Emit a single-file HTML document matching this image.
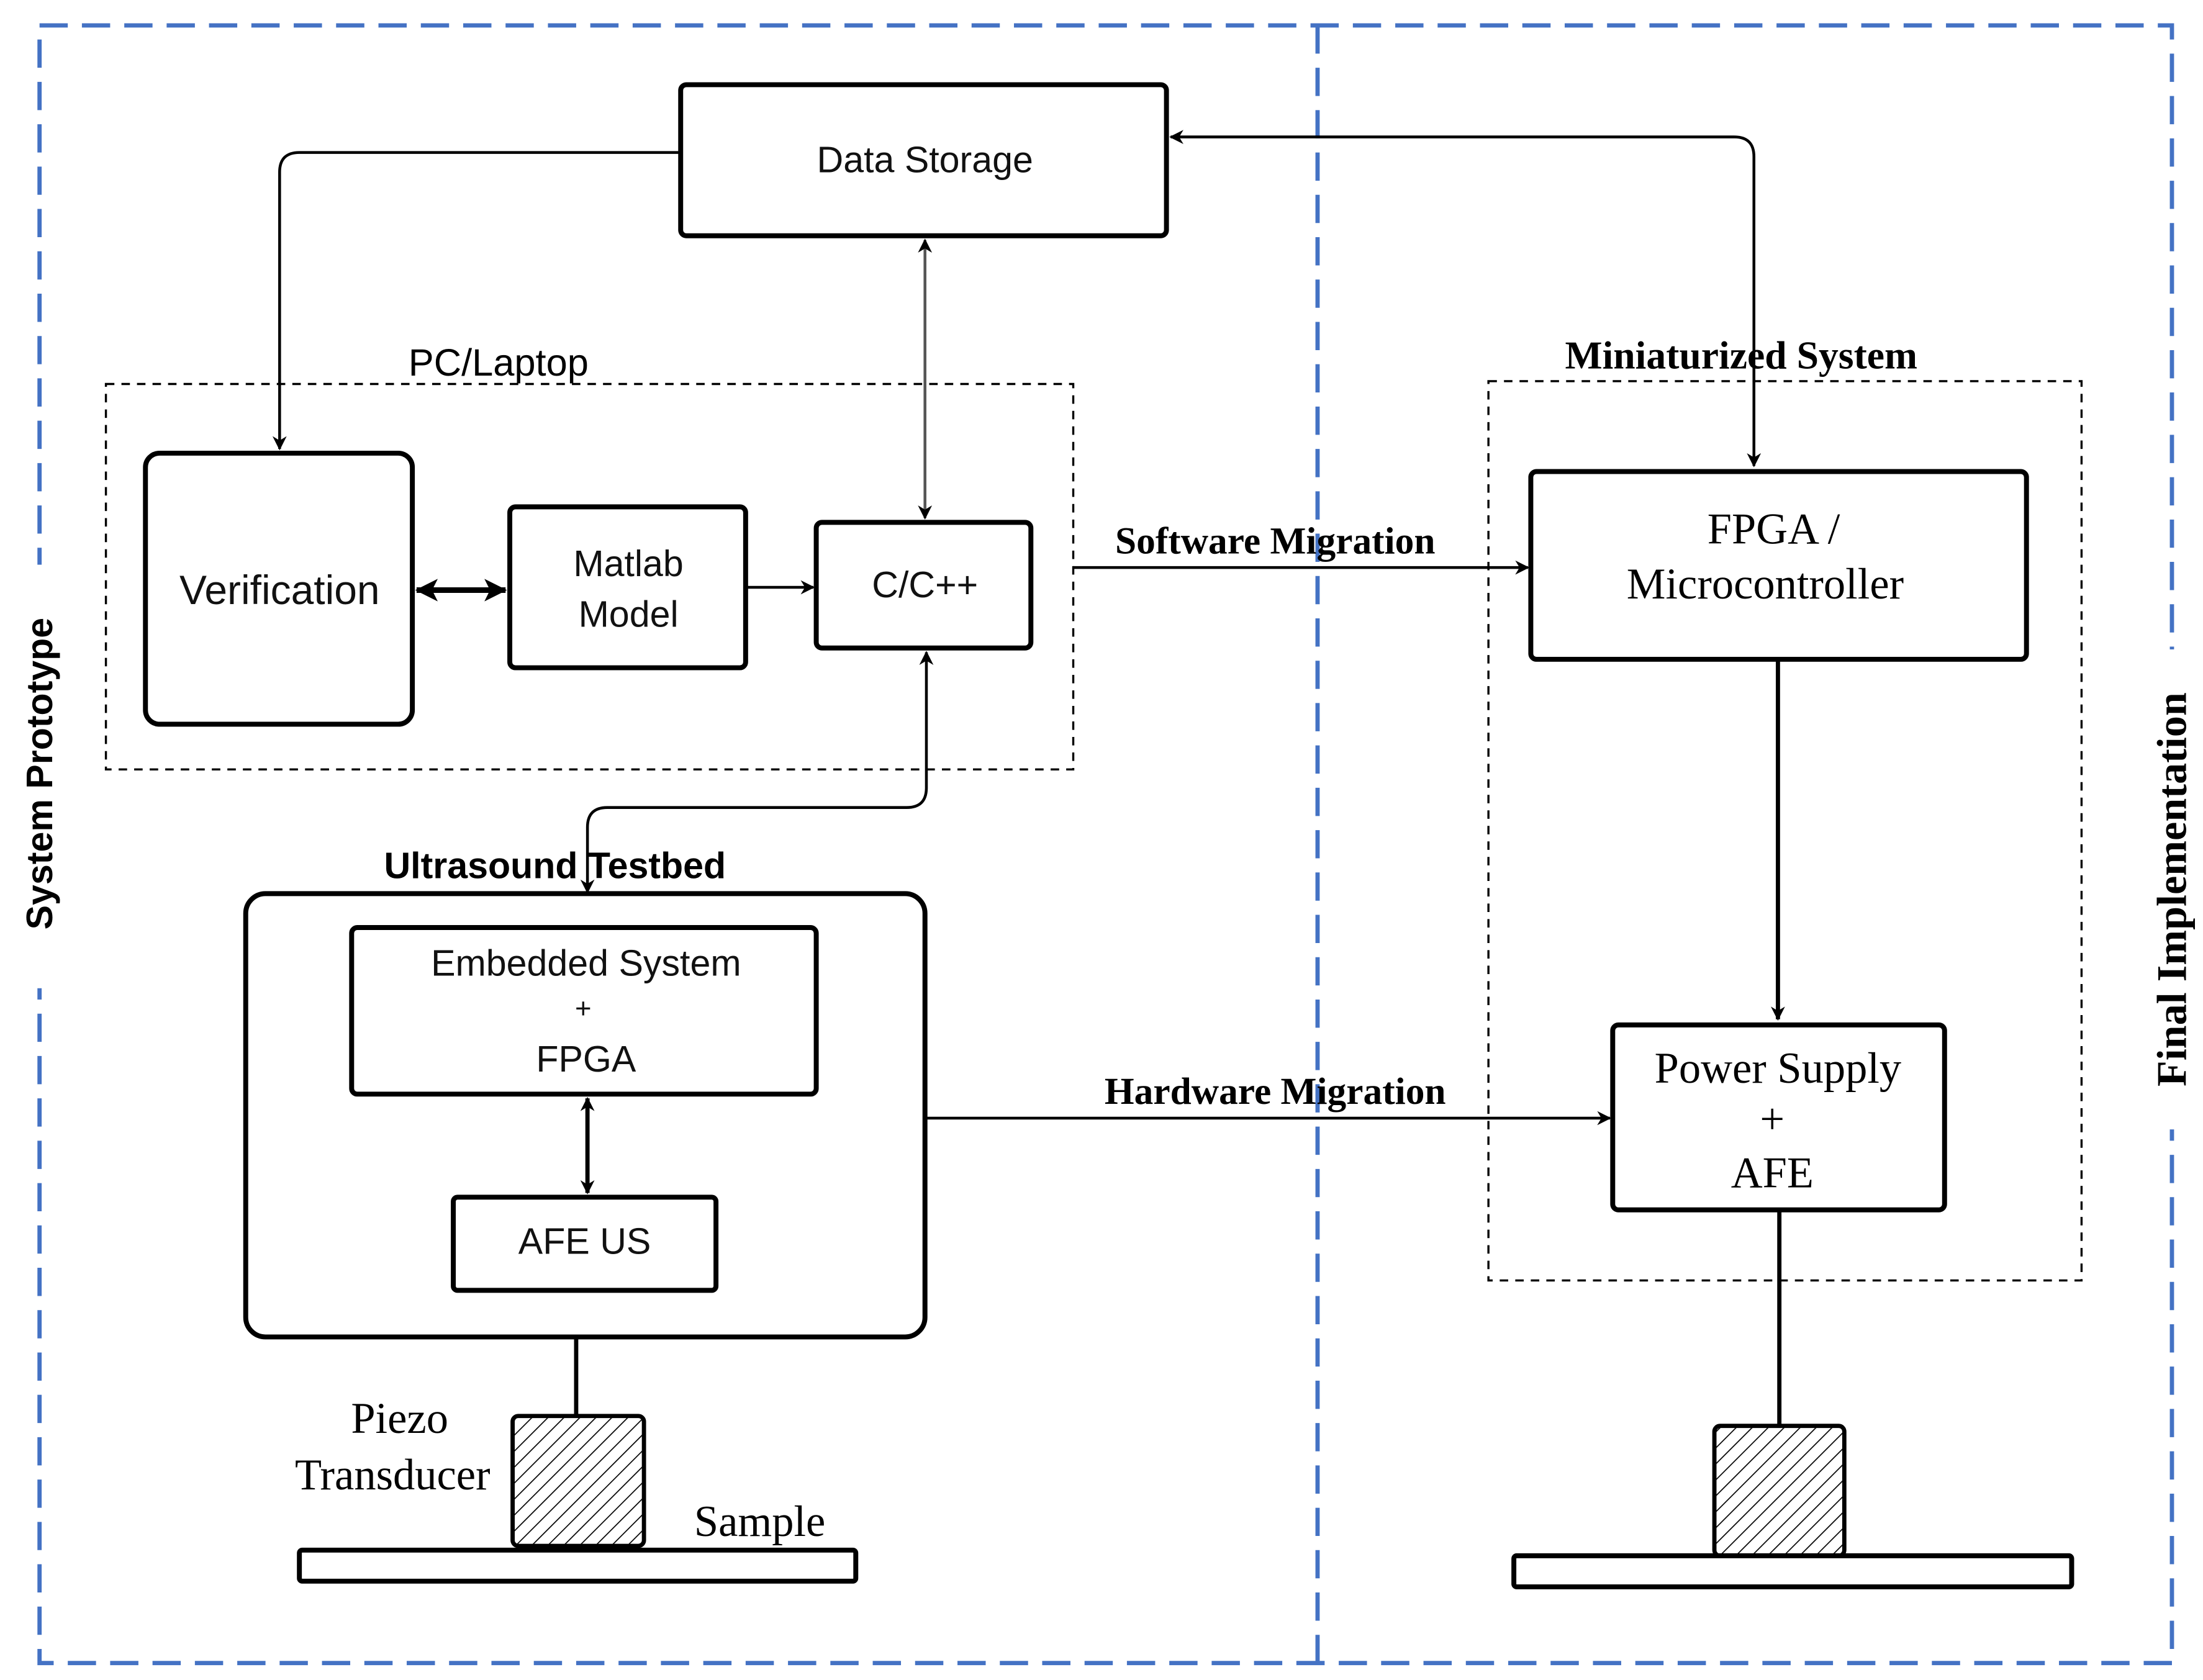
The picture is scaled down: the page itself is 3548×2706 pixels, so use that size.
<!DOCTYPE html>
<html><head><meta charset="utf-8"><style>
html,body{margin:0;padding:0;background:#fff;}
svg{display:block;}
.s{font-family:"Liberation Sans",sans-serif;}
.r{font-family:"Liberation Serif",serif;}
</style></head><body>
<svg width="3548" height="2706" viewBox="0 0 1560 1190" preserveAspectRatio="none" xmlns="http://www.w3.org/2000/svg">
<defs>
<marker id="a" markerWidth="10" markerHeight="10" refX="9" refY="5" orient="auto-start-reverse" markerUnits="userSpaceOnUse"><path d="M0,0 L10,5 L0,10 L3,5 Z" fill="#000"/></marker>
<marker id="b" markerWidth="16" markerHeight="16" refX="15" refY="8" orient="auto-start-reverse" markerUnits="userSpaceOnUse"><path d="M0,0 L16,8 L0,16 L4,8 Z" fill="#000"/></marker>
<pattern id="h" width="8" height="8" patternUnits="userSpaceOnUse" patternTransform="rotate(45)"><line x1="0" y1="0" x2="0" y2="8" stroke="#000" stroke-width="1.5"/></pattern>
</defs>
<rect width="1560" height="1190" fill="#fff"/>
<!-- blue dashed frame -->
<g stroke="#4472C4" stroke-width="3" fill="none" stroke-dasharray="20 10">
<rect x="28" y="18" width="1510" height="1160"/>
<line x1="933" y1="18" x2="933" y2="1178"/>
</g>
<rect x="14" y="400" width="28" height="300" fill="#fff"/>
<text class="s" font-weight="bold" font-size="26" transform="translate(37,548) rotate(-90)" text-anchor="middle">System Prototype</text>
<rect x="1524" y="460" width="28" height="340" fill="#fff"/>
<text class="r" font-weight="bold" font-size="30" transform="translate(1548,630) rotate(-90)" text-anchor="middle">Final Implementation</text>

<!-- dashed groups -->
<g stroke="#000" stroke-width="1.5" fill="none" stroke-dasharray="6 5">
<rect x="75" y="272" width="685" height="273"/>
<rect x="1054" y="270" width="420" height="637"/>
</g>
<text class="s" font-size="27" x="353" y="266" text-anchor="middle">PC/Laptop</text>
<text class="r" font-weight="bold" font-size="28" x="1233" y="261" text-anchor="middle">Miniaturized System</text>

<!-- boxes -->
<g stroke="#000" stroke-width="3.5" fill="#fff">
<rect x="482" y="60" width="344" height="107" rx="4"/>
<rect x="103" y="321" width="189" height="192" rx="10"/>
<rect x="361" y="359" width="167" height="114" rx="4"/>
<rect x="578" y="370" width="152" height="89" rx="4"/>
<rect x="174" y="633" width="481" height="314" rx="14"/>
<rect x="249" y="657" width="329" height="118" rx="4"/>
<rect x="321" y="848" width="186" height="66" rx="3"/>
<rect x="1084" y="334" width="351" height="133" rx="4"/>
<rect x="1142" y="726" width="235" height="131" rx="4"/>
<rect x="212" y="1098" width="394" height="22" rx="2"/>
<rect x="1072" y="1102" width="395" height="22" rx="2"/>
</g>
<rect x="363" y="1003" width="93" height="92" rx="4" fill="url(#h)" stroke="#000" stroke-width="3"/>
<rect x="1214" y="1010" width="92" height="92" rx="4" fill="url(#h)" stroke="#000" stroke-width="3"/>

<g class="s" font-size="26" text-anchor="middle" fill="#111">
<text x="655" y="122">Data Storage</text>
<text x="198" y="428" font-size="29">Verification</text>
<text x="445" y="408">Matlab</text>
<text x="445" y="444">Model</text>
<text x="655" y="423">C/C++</text>
<text x="415" y="691">Embedded System</text>
<text x="413" y="721" font-size="20">+</text>
<text x="415" y="759">FPGA</text>
<text x="414" y="888">AFE US</text>
</g>
<text class="s" font-weight="bold" font-size="26" x="393" y="622" text-anchor="middle">Ultrasound Testbed</text>
<g class="r" font-size="31" text-anchor="middle">
<text x="1256" y="385">FPGA /</text>
<text x="1250" y="424">Microcontroller</text>
<text x="1259" y="767">Power Supply</text>
<text x="1255" y="803">+</text>
<text x="1255" y="841">AFE</text>
<text x="283" y="1015">Piezo</text>
<text x="278" y="1055">Transducer</text>
<text x="538" y="1088">Sample</text>
</g>
<g class="r" font-weight="bold" font-size="27" text-anchor="middle">
<text x="903" y="392">Software Migration</text>
<text x="903" y="782">Hardware Migration</text>
</g>

<!-- connectors -->
<g stroke="#000" stroke-width="2" fill="none">
<path d="M482,108 L212,108 Q198,108 198,122 L198,318" marker-end="url(#a)"/>
<path d="M829,97 L1228,97 Q1242,97 1242,111 L1242,330" marker-start="url(#a)" marker-end="url(#a)"/>
<line x1="655" y1="170" x2="655" y2="367" stroke="#555" marker-start="url(#a)" marker-end="url(#a)"/>
<line x1="528" y1="416" x2="576" y2="416" marker-end="url(#a)"/>
<line x1="760" y1="402" x2="1082" y2="402" marker-end="url(#a)"/>
<path d="M656,462 L656,558 Q656,572 642,572 L430,572 Q416,572 416,586 L416,632" marker-start="url(#a)" marker-end="url(#a)"/>
<line x1="655" y1="792" x2="1140" y2="792" marker-end="url(#a)"/>
<line x1="416" y1="778" x2="416" y2="845" stroke-width="3" marker-start="url(#a)" marker-end="url(#a)"/>
<line x1="408" y1="947" x2="408" y2="1003" stroke-width="3"/>
<line x1="1259" y1="467" x2="1259" y2="722" stroke-width="3" marker-end="url(#a)"/>
<line x1="1260" y1="857" x2="1260" y2="1010" stroke-width="3"/>
<line x1="295" y1="418" x2="358" y2="418" stroke-width="4" marker-start="url(#b)" marker-end="url(#b)"/>
</g>
</svg>
</body></html>
